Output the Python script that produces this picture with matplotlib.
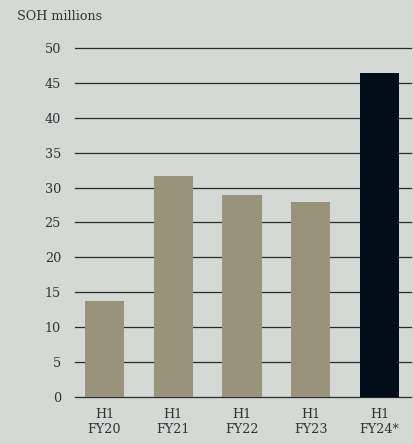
import numpy as np
import matplotlib.pyplot as plt

periods = ['H1\nFY20', 'H1\nFY21', 'H1\nFY22', 'H1\nFY23', 'H1\nFY24*']
soh = [13.8, 31.7, 28.9, 27.9, 46.4]
yticks = [0, 5, 10, 15, 20, 25, 30, 35, 40, 45, 50]

bg = '#d4d9d6'
colors = ['#9a937b'] * 4 + ['#020d1a']

plt.rcParams['font.family'] = ['DejaVu Serif']

fig = plt.figure(figsize=(4.14, 4.44), dpi=100, facecolor=bg)
ax = fig.add_axes([0.181, 0.106, 0.812, 0.786], facecolor=bg)

x = np.arange(len(periods))
for yv in yticks:
    ax.axhline(yv, color='#2b2b2b', lw=0.9, zorder=1, clip_on=False)
ax.bar(x, soh, width=0.57, color=colors, zorder=2)

ax.set_xlim(-0.43, 4.46)
ax.set_ylim(0, 50)
ax.set_yticks(yticks)
ax.set_xticks(x)
ax.set_xticklabels(periods, fontsize=9.2, color='#333333', linespacing=1.15)
ax.tick_params(axis='y', length=0, pad=10, labelsize=9.2, labelcolor='#333333')
ax.tick_params(axis='x', length=0, pad=8)
for s in ax.spines.values():
    s.set_visible(False)

fig.text(0.041, 0.963, 'SOH millions', fontsize=9.2, color='#333333', va='center')

fig.savefig('out.png', dpi=100, facecolor=bg)
